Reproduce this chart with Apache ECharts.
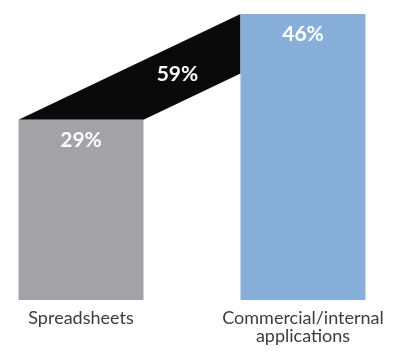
<!DOCTYPE html>
<html>
<head>
<meta charset="utf-8">
<script src="https://cdn.jsdelivr.net/npm/echarts@6/dist/echarts.min.js"></script>
<style>
  html, body { margin: 0; padding: 0; background: #fff; }
  #chart { width: 401px; height: 352px; }
</style>
</head>
<body>
<div id="chart"></div>
<script>
// data
var categories = ['Spreadsheets', 'Commercial/internal\napplications'];
var shares = [29, 46];
var barColors = ['#a3a2a7', '#87afd9'];
var bridgeValue = 59;

var barWidth = 125;
var chart = echarts.init(document.getElementById('chart'));

var option = {
    animation: false,
    grid: { left: 81, right: 98, top: 14, bottom: 52 },
    xAxis: {
        type: 'category',
        data: categories,
        boundaryGap: false,
        axisLine: { show: false },
        axisTick: { show: false },
        axisLabel: {
            margin: 9,
            color: '#3d3d3d',
            fontFamily: 'Lato',
            fontSize: 18,
            lineHeight: 18
        }
    },
    yAxis: { type: 'value', min: 0, max: 46, show: false },
    series: [
        {
            type: 'bar',
            barWidth: barWidth,
            data: shares.map(function (v, i) {
                return { value: v, itemStyle: { color: barColors[i] } };
            }),
            label: {
                show: true,
                position: 'insideTop',
                distance: 10,
                formatter: '{c}%',
                color: '#fff',
                fontFamily: 'Lato',
                fontWeight: 'bold',
                fontSize: 21
            }
        },
        {
            // black band joining the top of the two bars
            type: 'custom',
            data: [[0, shares[0], 1, shares[1], bridgeValue]],
            renderItem: function (params, api) {
                var g = api.coord([api.value(0), api.value(1)]);
                var b = api.coord([api.value(2), api.value(3)]);
                var hw = barWidth / 2;
                var ax = g[0] - hw, bx = g[0] + hw, dx = b[0] - hw;
                var yC = g[1] + (b[1] - g[1]) * (dx - bx) / (dx - ax);
                var pts = [[ax, g[1]], [bx, g[1]], [dx, yC], [dx, b[1]]];
                var tx = bx + 0.35 * (dx - bx);
                var topY = g[1] + (b[1] - g[1]) * (tx - ax) / (dx - ax);
                var botY = g[1] + (yC - g[1]) * (tx - bx) / (dx - bx);
                return {
                    type: 'group',
                    children: [
                        { type: 'polygon', shape: { points: pts }, style: { fill: '#0a0a0a' } },
                        {
                            type: 'text',
                            x: tx, y: (topY + botY) / 2,
                            style: {
                                text: api.value(4) + '%',
                                fill: '#fff',
                                font: 'bold 21px Lato',
                                align: 'center',
                                verticalAlign: 'middle'
                            }
                        }
                    ]
                };
            }
        }
    ]
};
chart.setOption(option);
</script>
</body>
</html>
